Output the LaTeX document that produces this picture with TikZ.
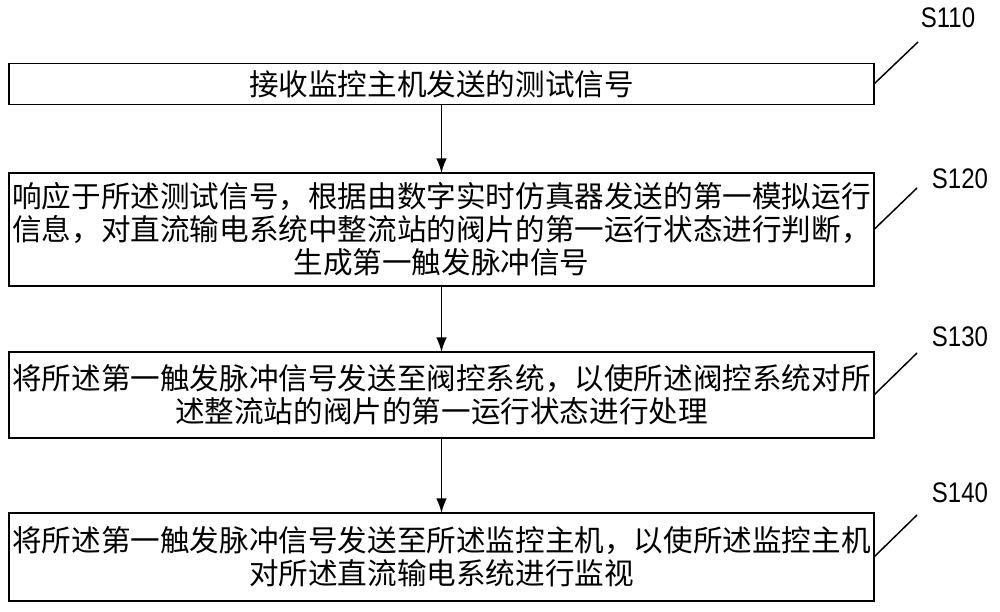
\documentclass[tikz,border=0pt]{standalone}
\usepackage{fontspec}
\usepackage{graphicx}
\setmainfont{Liberation Sans}
\newfontfamily\cjk{Noto Sans CJK SC}
\usetikzlibrary{arrows.meta}
\tikzset{
  stepbox/.style={draw=black, line width=1.1pt, minimum width=648.75pt, inner sep=0pt, outer sep=0pt,
    align=center, font=\cjk\fontsize{22.2}{24.6}\selectfont},
  flow/.style={line width=1.1pt, -{Latex[length=11pt,width=8pt]}},
  leader/.style={line width=1.1pt},
  steplabel/.style={font=\fontsize{18}{20}\selectfont, inner sep=0pt}
}
\newcommand{\tallsl}[1]{\scalebox{1}[1.18]{#1}}
\begin{document}
\begin{tikzpicture}[x=0.75pt,y=-0.75pt]
\useasboundingbox (0,0) rectangle (1000,611);
\node[stepbox, minimum height=30.75pt] (b1) at (441.5,84) {接收监控主机发送的测试信号};
\node[stepbox, minimum height=84.75pt] (b2) at (441.5,229.5) {响应于所述测试信号，根据由数字实时仿真器发送的第一模拟运行\\信息，对直流输电系统中整流站的阀片的第一运行状态进行判断，\\生成第一触发脉冲信号};
\node[stepbox, minimum height=64.5pt] (b3) at (441.5,395) {将所述第一触发脉冲信号发送至阀控系统，以使所述阀控系统对所\\述整流站的阀片的第一运行状态进行处理};
\node[stepbox, minimum height=66pt] (b4) at (441.5,557) {将所述第一触发脉冲信号发送至所述监控主机，以使所述监控主机\\对所述直流输电系统进行监视};
\draw[flow] (b1.south) -- (b2.north);
\draw[flow] (b2.south) -- (b3.north);
\draw[flow] (b3.south) -- (b4.north);
\coordinate (l1) at (918,42);
\coordinate (l2) at (917,188);
\coordinate (l3) at (917,353);
\coordinate (l4) at (917,515);
\draw[leader] (b1.east) -- (l1);
\draw[leader] (b2.east) -- (l2);
\draw[leader] (b3.east) -- (l3);
\draw[leader] (b4.east) -- (l4);
\node[steplabel] (s1) at (948,18) {\tallsl{S110}};
\node[steplabel] (s2) at (960,179) {\tallsl{S120}};
\node[steplabel] (s3) at (960,337) {\tallsl{S130}};
\node[steplabel] (s4) at (960,493) {\tallsl{S140}};
\end{tikzpicture}
\end{document}
